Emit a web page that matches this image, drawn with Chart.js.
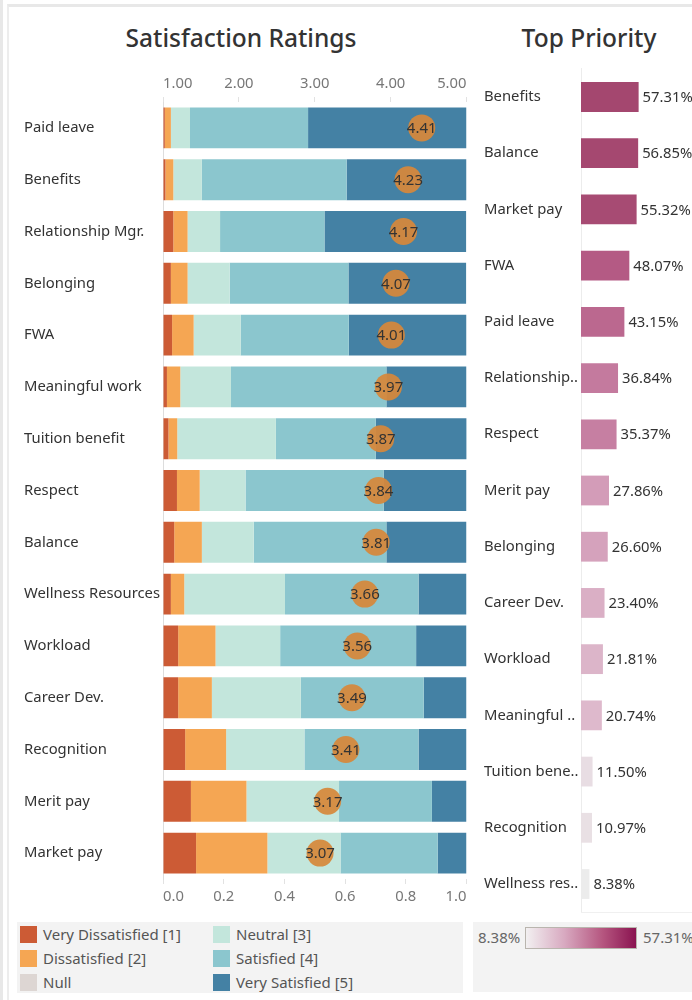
<!DOCTYPE html>
<html>
<head>
<meta charset="utf-8">
<script src="https://cdn.jsdelivr.net/npm/chart.js@4.4.0/dist/chart.umd.min.js"></script>
<style>
body { margin: 0; width: 692px; height: 1000px; overflow: hidden; background: #fff; position: relative; font-family: "Noto Sans", sans-serif; color: #333; }
#edge { position: absolute; left: 0; top: 0; width: 3px; height: 1000px; background: #e8e8e8; }
#frame { position: absolute; left: 7px; top: 4px; width: 700px; height: 1000px; border-left: 2px solid #ededed; border-top: 3px solid #e8e8e8; }
.title { position: absolute; top: 22px; font-size: 24.5px; font-weight: 500; text-align: center; line-height: 32px; }
#t1 { left: 0; width: 482px; }
#t2 { left: 478px; width: 222px; }
#ratingsWrap { position: absolute; left: 0; top: 61.5px; }
#priorityWrap { position: absolute; left: 470px; top: 60px; }
#legend1 { position: absolute; left: 17px; top: 922px; width: 446px; height: 71px; background: #f3f3f3; }
.item { position: absolute; font-size: 15px; color: #555; line-height: 18px; }
.item i { position: absolute; left: 0; top: 0; width: 17px; height: 17px; }
.item span { position: absolute; left: 23px; top: -1px; white-space: nowrap; }
#legend2 { position: absolute; left: 473px; top: 922px; width: 230px; height: 70px; background: #f3f3f3; font-size: 15px; color: #666; }
#legend2 .lo { position: absolute; left: 5px; top: 5px; }
#legend2 .hi { position: absolute; left: 170px; top: 5px; }
#legend2 .ramp { position: absolute; left: 52px; top: 5px; width: 110px; height: 20px; border: 1px solid #b9b5ae;
  background: linear-gradient(to right, #f2f0f1, #d8a9c0 35%, #b5557f 70%, #8a1350); }
</style>
</head>
<body>
<div id="edge"></div>
<div id="frame"></div>
<div class="title" id="t1">Satisfaction Ratings</div>
<div class="title" id="t2">Top Priority</div>
<div id="ratingsWrap"><canvas id="ratingsChart" width="480" height="860"></canvas></div>
<div id="priorityWrap"><canvas id="priorityChart" width="222" height="861"></canvas></div>
<div id="legend1"></div>
<div id="legend2"><span class="lo">8.38%</span><div class="ramp"></div><span class="hi">57.31%</span></div>

<script>
// satisfaction ratings (share of responses per item)
var categories = ['Paid leave', 'Benefits', 'Relationship Mgr.', 'Belonging', 'FWA', 'Meaningful work', 'Tuition benefit',
    'Respect', 'Balance', 'Wellness Resources', 'Workload', 'Career Dev.', 'Recognition', 'Merit pay', 'Market pay'];
var veryDissatisfied = [0.006, 0.008, 0.034, 0.026, 0.030, 0.013, 0.018, 0.046, 0.037, 0.026, 0.050, 0.050, 0.073, 0.092, 0.109];
var dissatisfied = [0.020, 0.026, 0.047, 0.055, 0.071, 0.044, 0.029, 0.075, 0.091, 0.044, 0.123, 0.111, 0.135, 0.183, 0.235];
var neutral = [0.063, 0.094, 0.107, 0.139, 0.155, 0.167, 0.325, 0.151, 0.171, 0.332, 0.213, 0.293, 0.258, 0.305, 0.241];
var satisfied = [0.389, 0.477, 0.344, 0.391, 0.356, 0.512, 0.329, 0.455, 0.437, 0.440, 0.448, 0.405, 0.376, 0.306, 0.320];
var verySatisfied = [0.522, 0.395, 0.467, 0.388, 0.388, 0.264, 0.300, 0.273, 0.264, 0.158, 0.166, 0.141, 0.158, 0.114, 0.095];
var meanRating = [4.41, 4.23, 4.17, 4.07, 4.01, 3.97, 3.87, 3.84, 3.81, 3.66, 3.56, 3.49, 3.41, 3.17, 3.07];
var ratingTicks = [1, 2, 3, 4, 5];
var shareTicks = [0, 0.2, 0.4, 0.6, 0.8, 1.0];

// top priority
var priorityCategories = ['Benefits', 'Balance', 'Market pay', 'FWA', 'Paid leave', 'Relationship..', 'Respect', 'Merit pay',
    'Belonging', 'Career Dev.', 'Workload', 'Meaningful ..', 'Tuition bene..', 'Recognition', 'Wellness res..'];
var priorityShare = [57.31, 56.85, 55.32, 48.07, 43.15, 36.84, 35.37, 27.86, 26.60, 23.40, 21.81, 20.74, 11.50, 10.97, 8.38];

var legendLabels = ['Very Dissatisfied [1]', 'Dissatisfied [2]', 'Null', 'Neutral [3]', 'Satisfied [4]', 'Very Satisfied [5]'];
var legendColors = ['#cc5b35', '#f5a653', '#ddd6d3', '#c3e6dc', '#8bc6ce', '#4481a4'];

var FONT = '"Noto Sans", sans-serif';

// legend
var legendBox = document.getElementById('legend1');
legendLabels.forEach(function (label, i) {
    var el = document.createElement('div');
    el.className = 'item';
    el.style.left = (i < 3 ? 3 : 196) + 'px';
    el.style.top = (4 + (i % 3) * 24) + 'px';
    el.innerHTML = '<i style="background:' + legendColors[i] + '"></i><span>' + label + '</span>';
    legendBox.appendChild(el);
});

// text inside the orange circles
var meanLabels = {
    id: 'meanLabels',
    afterDatasetsDraw: function (chart) {
        var ctx = chart.ctx;
        var meta = chart.getDatasetMeta(5);
        ctx.save();
        ctx.font = '15px ' + FONT;
        ctx.fillStyle = '#333';
        ctx.textAlign = 'center';
        ctx.textBaseline = 'middle';
        meta.data.forEach(function (pt, i) {
            ctx.fillText(meanRating[i].toFixed(2), pt.x, pt.y + 1);
        });
        ctx.restore();
    }
};

function bars(label, data, color) {
    return { label: label, data: data, backgroundColor: color, borderWidth: 0, order: 1,
        barPercentage: 0.79, categoryPercentage: 1 };
}

var ratingsConfig = {
    type: 'bar',
    data: {
        labels: categories,
        datasets: [
            bars('Very Dissatisfied [1]', veryDissatisfied, legendColors[0]),
            bars('Dissatisfied [2]', dissatisfied, legendColors[1]),
            bars('Neutral [3]', neutral, legendColors[3]),
            bars('Satisfied [4]', satisfied, legendColors[4]),
            bars('Very Satisfied [5]', verySatisfied, legendColors[5]),
            {
                type: 'line',
                label: 'Average',
                data: meanRating,
                indexAxis: 'y',
                xAxisID: 'x2',
                yAxisID: 'y',
                showLine: false,
                pointRadius: 13.5,
                pointHoverRadius: 13.5,
                pointBorderWidth: 0,
                pointBackgroundColor: 'rgba(214,136,58,0.93)',
                order: 0
            }
        ]
    },
    options: {
        indexAxis: 'y',
        responsive: false,
        animation: false,
        layout: { padding: { left: 24, right: 13, top: 0, bottom: 0 } },
        scales: {
            y: {
                stacked: true,
                afterFit: function (s) { s.width = 139; },
                ticks: { crossAlign: 'far', color: '#333', font: { family: FONT, size: 14.8 }, padding: 0 },
                grid: { display: false },
                border: { display: true, color: '#ddd', dash: [2, 2] }
            },
            x: {
                position: 'bottom',
                stacked: true,
                min: 0,
                max: 1,
                afterFit: function (s) { s.height = 43; },
                afterBuildTicks: function (s) { s.ticks = shareTicks.map(function (v) { return { value: v }; }); },
                ticks: {
                    align: 'inner', color: '#777', padding: 4, font: { family: FONT, size: 14.8 },
                    callback: function (v) { return Number(v).toFixed(1); }
                },
                grid: { drawOnChartArea: false, tickLength: 5, color: '#e2e2e2' },
                border: { display: false }
            },
            x2: {
                axis: 'x',
                position: 'top',
                min: 1,
                max: 5,
                afterFit: function (s) { s.height = 40; },
                afterBuildTicks: function (s) { s.ticks = ratingTicks.map(function (v) { return { value: v }; }); },
                ticks: {
                    align: 'inner', color: '#777', padding: 4, font: { family: FONT, size: 14.8 },
                    callback: function (v) { return Number(v).toFixed(2); }
                },
                grid: { drawOnChartArea: false, tickLength: 5, color: '#e2e2e2' },
                border: { display: false }
            }
        },
        plugins: {
            legend: { display: false },
            tooltip: { enabled: false }
        }
    },
    plugins: [meanLabels]
};

var ratingsChart = new Chart(document.getElementById('ratingsChart').getContext('2d'), ratingsConfig);

// colour ramp for the priority bars (light grey -> wine)
var rampStops = [
    [0.00, [236, 236, 236]], [0.07, [232, 220, 226]], [0.30, [219, 176, 198]], [0.40, [211, 156, 184]],
    [0.58, [196, 122, 158]], [0.80, [181, 91, 133]], [1.00, [164, 71, 111]]
];
function rampColor(v) {
    var lo = Math.min.apply(null, priorityShare), hi = Math.max.apply(null, priorityShare);
    var t = (v - lo) / (hi - lo);
    for (var i = 1; i < rampStops.length; i++) {
        if (t <= rampStops[i][0]) {
            var a = rampStops[i - 1], b = rampStops[i];
            var f = (t - a[0]) / (b[0] - a[0]);
            var c = a[1].map(function (x, k) { return Math.round(x + (b[1][k] - x) * f); });
            return 'rgb(' + c.join(',') + ')';
        }
    }
    return 'rgb(' + rampStops[rampStops.length - 1][1].join(',') + ')';
}

var shareLabels = {
    id: 'shareLabels',
    afterDatasetsDraw: function (chart) {
        var ctx = chart.ctx;
        var meta = chart.getDatasetMeta(0);
        ctx.save();
        ctx.font = '14.8px ' + FONT;
        ctx.fillStyle = '#333';
        ctx.textAlign = 'left';
        ctx.textBaseline = 'middle';
        meta.data.forEach(function (bar, i) {
            ctx.fillText(priorityShare[i].toFixed(2) + '%', bar.x + 4, bar.y + 1);
        });
        ctx.restore();
    }
};

var priorityConfig = {
    type: 'bar',
    data: {
        labels: priorityCategories,
        datasets: [{
            label: 'Top Priority',
            data: priorityShare,
            backgroundColor: priorityShare.map(rampColor),
            borderWidth: 0,
            barPercentage: 0.53,
            categoryPercentage: 1
        }]
    },
    options: {
        indexAxis: 'y',
        responsive: false,
        animation: false,
        layout: { padding: { left: 14, right: 0, top: 4, bottom: 0 } },
        scales: {
            y: {
                afterFit: function (s) { s.width = 97; },
                ticks: { crossAlign: 'far', color: '#333', font: { family: FONT, size: 14.8 }, padding: 0 },
                grid: { display: false },
                border: { display: true, color: '#ececec' }
            },
            x: {
                min: 0,
                max: 110.4,
                afterFit: function (s) { s.height = 0; },
                ticks: { display: false },
                grid: { display: false },
                border: { display: true, color: '#f0f0f0' }
            }
        },
        plugins: {
            legend: { display: false },
            tooltip: { enabled: false }
        }
    },
    plugins: [shareLabels]
};

var priorityChart = new Chart(document.getElementById('priorityChart').getContext('2d'), priorityConfig);
</script>
</body>
</html>
